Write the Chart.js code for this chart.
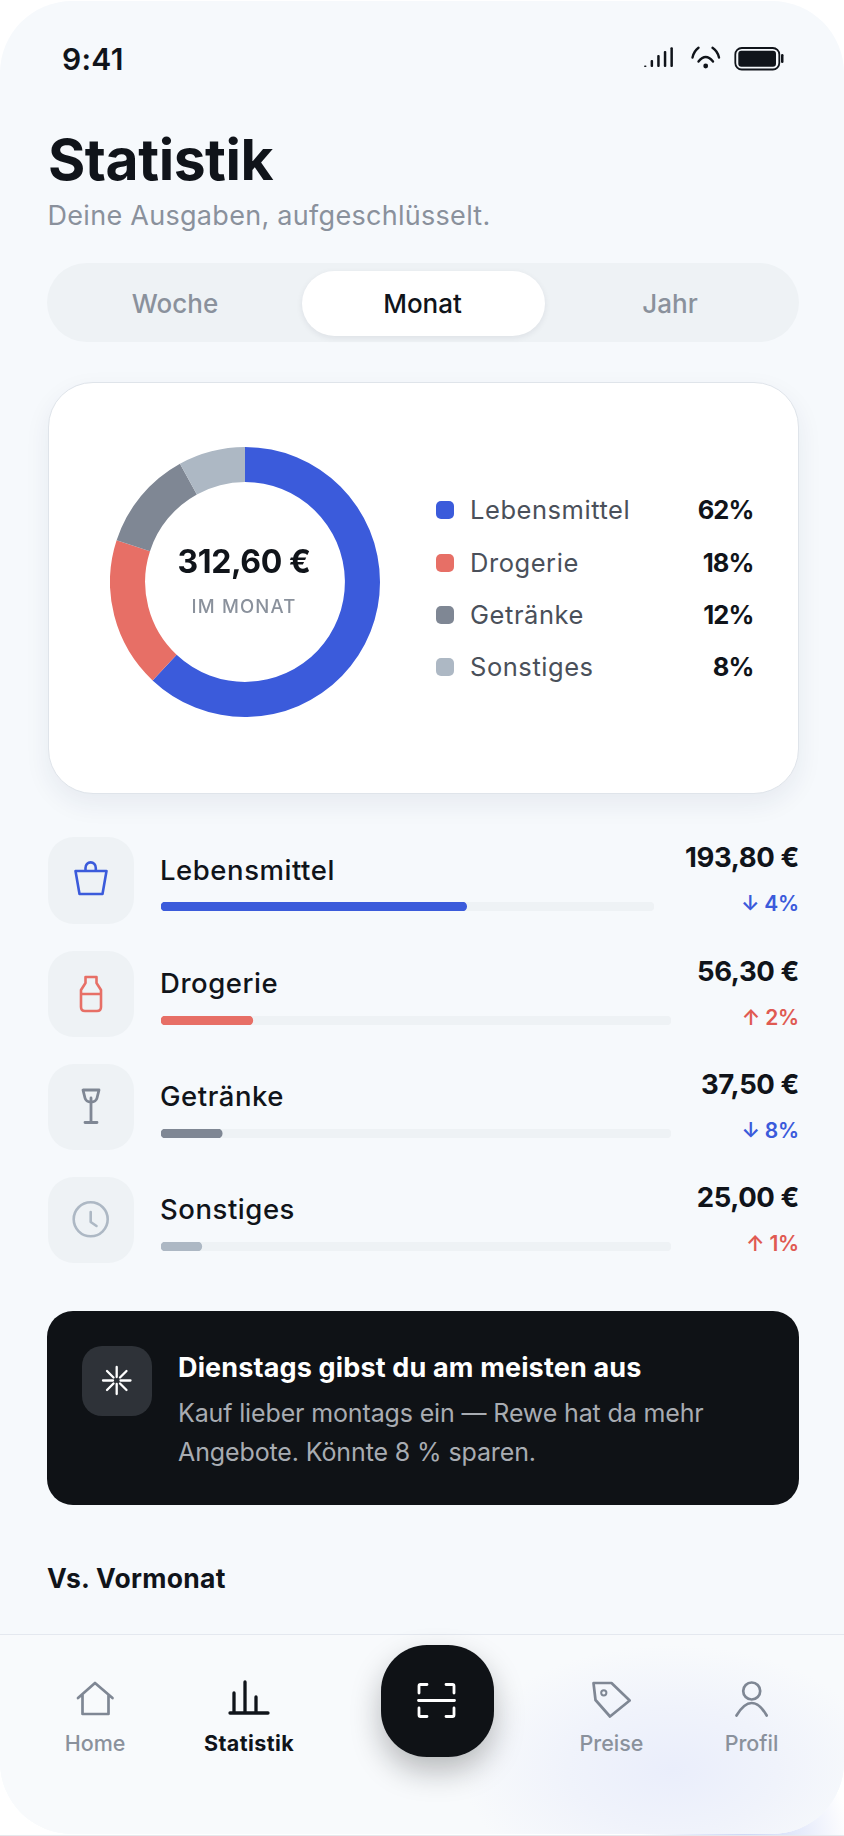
<!DOCTYPE html>
<html lang="de">
<head>
<meta charset="utf-8">
<title>Statistik</title>
<script src="https://cdn.jsdelivr.net/npm/chart.js@4"></script>
<style>
html,body{margin:0;padding:0;width:844px;height:1836px;overflow:hidden;background:#fff;}
body{position:relative;font-family:Inter,"Noto Sans",sans-serif;
 background:radial-gradient(circle 105px at 745px 1840px,#cdd7f7 0%,#dfe5fa 40%,#ffffff 100%);}
#phone{position:absolute;left:0;top:1px;width:844px;height:1833px;border-radius:72px;background:#f6f9fc;overflow:hidden;}
#stage{position:absolute;left:0;top:0;width:844px;height:1836px;}
.abs{position:absolute;}
.t{position:absolute;white-space:nowrap;line-height:1;}
canvas{display:block;}
svg{position:absolute;left:0;top:0;overflow:visible;}
#navbg{position:absolute;left:0;top:1633px;width:844px;height:202px;background:radial-gradient(ellipse 210px 125px at 672px 135px,#eaeefb 0%,#f0f3fb 50%,rgba(248,250,252,0) 100%),#f8fafc;border-top:1.5px solid #e4e8ef;box-sizing:border-box;}
#edge{position:absolute;left:0;top:1834.5px;width:844px;height:1.5px;background:#e6e8ec;}
</style>
</head>
<body>
<div id="phone"><div id="navbg"></div></div>
<div id="edge"></div>
<div id="stage"></div>
<script>
// ---- data ----
const categories = ['Lebensmittel', 'Drogerie', 'Getränke', 'Sonstiges'];
const shares = [62, 18, 12, 8];
const amounts = ['193,80 €', '56,30 €', '37,50 €', '25,00 €'];
const deltas = ['↓ 4%', '↑ 2%', '↓ 8%', '↑ 1%'];
const sliceColors = ['#3b5bdb', '#e76f66', '#7f8794', '#adb8c4'];
const trackFull = [100];
const totalLabel = '312,60 €';
const totalCaption = 'IM MONAT';
const periods = ['Woche', 'Monat', 'Jahr'];
const navLabels = ['Home', 'Statistik', 'Preise', 'Profil'];

const INK = '#10141a', MUTED = '#8a919c';
const stage = document.getElementById('stage');

function box(x, y, w, h, r, bg, extra) {
  const d = document.createElement('div');
  d.className = 'abs';
  d.style.cssText = `left:${x}px;top:${y}px;width:${w}px;height:${h}px;border-radius:${r}px;background:${bg};${extra || ''}`;
  stage.appendChild(d);
  return d;
}
// text placed by anchor x and vertical centre
function text(str, x, cy, size, weight, color, align, ls) {
  const d = document.createElement('div');
  d.className = 't';
  d.textContent = str;
  const tx = align === 'right' ? '-100%' : align === 'center' ? '-50%' : '0';
  d.style.cssText = `left:${x}px;top:${cy}px;font-size:${size}px;font-weight:${weight};color:${color};letter-spacing:${ls || 0}px;transform:translate(${tx},-50%);`;
  stage.appendChild(d);
  return d;
}

// ---- header ----
text('9:41', 62, 59, 30, 560, INK, 'left', 0.3);
text('Statistik', 48, 159, 57, 700, INK, 'left', -0.45);
text('Deine Ausgaben, aufgeschlüsselt.', 47.5, 215, 27, 400, MUTED, 'left', 0.29);

// ---- segmented control ----
box(47, 263, 752, 79, 39.5, '#eef2f5');
box(302, 271, 243, 65, 32.5, '#ffffff', 'box-shadow:0 2px 6px rgba(20,30,50,.08);');
[175, 422.5, 670].forEach((x, i) => text(periods[i], x, 303.5, 26, 540, i === 1 ? INK : MUTED, 'center', 0));

// ---- donut card ----
box(47.5, 381.5, 751.5, 412, 45, '#ffffff', 'box-sizing:border-box;border:1.5px solid #dfe4ea;box-shadow:0 10px 26px rgba(30,45,80,.07);');
const dc = document.createElement('canvas');
dc.width = 270; dc.height = 270;
dc.className = 'abs';
dc.style.cssText = 'left:110px;top:447px;width:270px;height:270px;position:absolute;';
stage.appendChild(dc);
new Chart(dc, {
  type: 'doughnut',
  data: { labels: categories, datasets: [{ data: shares, backgroundColor: sliceColors, borderWidth: 0 }] },
  options: {
    responsive: false, animation: false, cutout: '74%',
    layout: { padding: 0 },
    plugins: { legend: { display: false }, tooltip: { enabled: false } }
  }
});
text(totalLabel, 244, 562, 32, 700, INK, 'center', -0.4);
text(totalCaption, 244, 605.5, 18.5, 500, MUTED, 'center', 1.2);

// ---- legend ----
const legendY = [510, 562.5, 615, 667];
categories.forEach((c, i) => {
  box(435.5, legendY[i] - 9, 18, 18, 5, sliceColors[i]);
  text(c, 470, legendY[i], 25.5, 400, '#4a505a', 'left', 0.55);
  text(shares[i] + '%', 753.5, legendY[i], 25.5, 700, INK, 'right', -0.9);
});

// ---- breakdown rows ----
const rowTop = [837, 950.5, 1063.5, 1176.5];
const trackW = [493, 510.5, 510.5, 510.5];
const upColor = '#e05a52', downColor = '#3b5bdb';
categories.forEach((c, i) => {
  const top = rowTop[i];
  box(47.5, top, 86, 86.5, 26, '#eef2f5');
  text(c, 160, top + 33.5, 27.5, 500, INK, 'left', 0.55);
  text(amounts[i], 799, top + 21, 27.5, 700, INK, 'right', -0.4);
  const isUp = deltas[i].charAt(0) === '↑';
  text(deltas[i], 799, top + 66, 21, 600, isUp ? upColor : downColor, 'right', -0.2);
  const cv = document.createElement('canvas');
  cv.width = trackW[i]; cv.height = 9;
  cv.style.cssText = `position:absolute;left:160.5px;top:${top + 65.3}px;width:${trackW[i]}px;height:9px;`;
  stage.appendChild(cv);
  new Chart(cv, {
    type: 'bar',
    data: {
      labels: [c],
      datasets: [
        { data: [shares[i]], backgroundColor: sliceColors[i] },
        { data: trackFull, backgroundColor: '#eef2f5' }
      ]
    },
    options: {
      indexAxis: 'y', responsive: false, animation: false,
      layout: { padding: 0 },
      datasets: { bar: { grouped: false, barPercentage: 1, categoryPercentage: 1, borderSkipped: false, borderRadius: 5, borderWidth: 0 } },
      scales: {
        x: { display: false, min: 0, max: 100 },
        y: { display: false }
      },
      plugins: { legend: { display: false }, tooltip: { enabled: false } }
    }
  });
});

// ---- insight card ----
box(47, 1311, 752, 194, 26, '#0f1216');
box(82, 1346, 70, 70, 20, '#2e3238');
text('Dienstags gibst du am meisten aus', 178, 1367, 27, 700, '#ffffff', 'left', 0.15);
text('Kauf lieber montags ein — Rewe hat da mehr', 178, 1412.5, 25, 400, '#a8acb2', 'left', -0.14);
text('Angebote. Könnte 8 % sparen.', 178, 1452, 25, 400, '#a8acb2', 'left', -0.12);
text('Vs. Vormonat', 47, 1578, 26.5, 700, INK, 'left', 0.3);

// ---- bottom nav ----
box(381, 1644.5, 113, 112.5, 46, '#0f1216', 'box-shadow:0 14px 30px rgba(15,18,22,.28);');
[95, 249, 611.5, 751.5].forEach((x, i) => text(navLabels[i], x, 1744, 21.5, i === 1 ? 700 : 500, i === 1 ? INK : MUTED, 'center', i === 1 ? 0.4 : 0));

// ---- vector icons ----
const svgNS = 'http://www.w3.org/2000/svg';
const s = document.createElementNS(svgNS, 'svg');
s.setAttribute('width', 844); s.setAttribute('height', 1836);
s.innerHTML = `
<g fill="${INK}">
 <rect x="644" y="65.5" width="2.5" height="1.6" rx="1"/><rect x="650.6" y="60" width="2.5" height="7" rx="1"/>
 <rect x="657.2" y="55" width="2.5" height="12" rx="1"/><rect x="663.8" y="51" width="2.5" height="16" rx="1"/>
 <rect x="670.4" y="47.3" width="2.5" height="19.7" rx="1"/>
 <circle cx="705.7" cy="66" r="2.4"/>
 <rect x="738.3" y="50.8" width="37.7" height="16" rx="3"/><rect x="781" y="54" width="2.5" height="9" rx="1.2"/>
</g>
<g fill="none" stroke="${INK}" stroke-width="2.4" stroke-linecap="round">
 <path d="M698.5 61.5 Q705.7 52.5 713 61.5"/>
 <path d="M692.5 57.5 Q694 51 698.5 47.8"/><path d="M712.5 47.8 Q717.5 51 719 57.5"/>
 <rect x="735.3" y="48" width="44" height="21.5" rx="6.5" stroke-width="1.8"/>
</g>
<g fill="none" stroke-width="2.6" stroke-linejoin="round" stroke-linecap="round">
 <path stroke="#3b5bdb" d="M75.5 871 H106.5 L102.5 894 H79.5 Z M85.5 871 V868 A5 5.5 0 0 1 95.8 868 V871"/>
 <path stroke="#e76f66" d="M85.5 977 H96.5 V983 L101 990 V1007 Q101 1011 97 1011 H85 Q81 1011 81 1007 V990 L85.5 983 Z M81 994 H101"/>
 <path stroke="#7f8794" stroke-width="2.8" d="M83 1090 H99 L97 1098 Q96 1102 91 1102 Q86 1102 85 1098 Z M91 1098 V1122.5 M85 1122.5 H97"/>
 <circle stroke="#adb8c4" cx="90.7" cy="1219.3" r="17"/><path stroke="#adb8c4" d="M90.7 1212 V1222 L96.5 1226"/>
</g>
<g stroke="#ffffff" stroke-width="2.3" stroke-linecap="round" fill="none">
 <path d="M116.7 1367 V1377 M116.7 1384 V1394 M103 1380.5 H113 M120.5 1380.5 H130.5 M107 1371 L113.5 1377.5 M120 1383.5 L126.5 1390 M126.5 1371 L120 1377.5 M113.5 1383.5 L107 1390"/>
</g>
<g fill="none" stroke="#ffffff" stroke-width="2.8" stroke-linecap="round" stroke-linejoin="round">
 <path d="M419 1693 V1686 Q419 1684.5 420.5 1684.5 H427 M446 1684.5 H452.5 Q454 1684.5 454 1686 V1693 M419 1708 V1715 Q419 1716.5 420.5 1716.5 H427 M446 1716.5 H452.5 Q454 1716.5 454 1715 V1708 M418.5 1700.5 H454.5"/>
</g>
<g fill="none" stroke="#7f8794" stroke-width="2.7" stroke-linejoin="round" stroke-linecap="round">
 <path d="M78 1698 L95 1683 L112.5 1698 M82.5 1695 V1714 H108.5 V1695"/>
 <path d="M593.5 1683 H611.5 L629.7 1700.5 L610 1716.5 L595.5 1700 Z"/><circle cx="603.8" cy="1692.8" r="2.6" stroke-width="2"/>
 <circle cx="751.7" cy="1691" r="8.5"/><path d="M736.5 1715.5 Q744 1703 751.7 1703 Q759.5 1703 766.7 1715.5"/>
</g>
<g fill="none" stroke="${INK}" stroke-width="3.3" stroke-linecap="round">
 <path d="M234 1693 V1712 M245 1682 V1712 M256 1697 V1712 M230 1713 H268"/>
</g>`;
stage.appendChild(s);
</script>
</body>
</html>
